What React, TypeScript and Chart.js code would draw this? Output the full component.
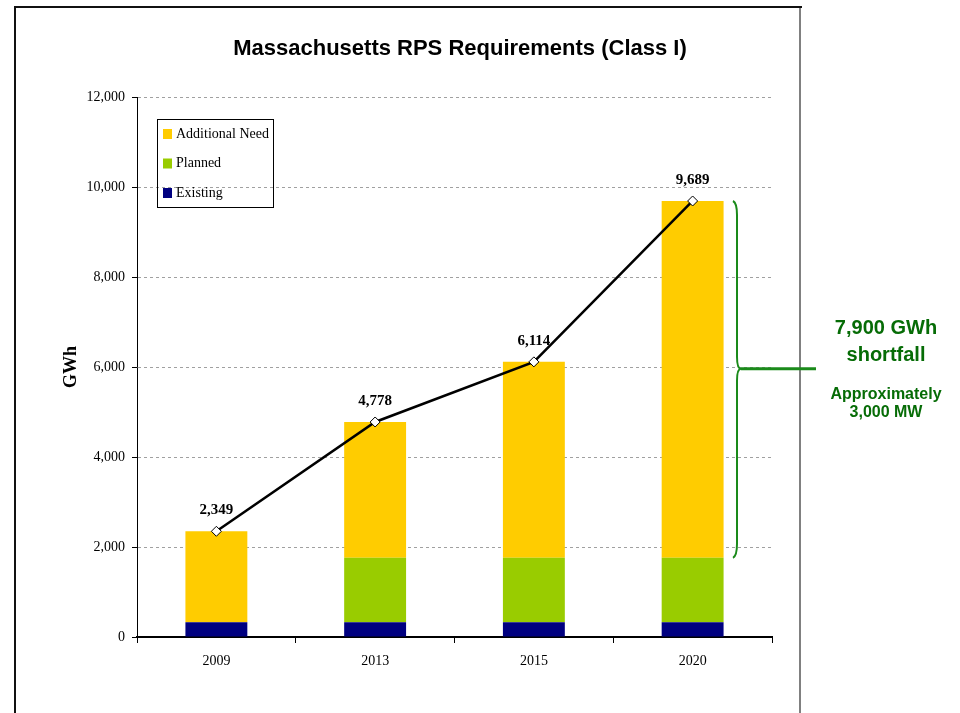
import React, { useEffect, useRef } from 'react';
import { Chart, registerables } from 'chart.js';

Chart.register(...registerables);

const chartTitle = 'Massachusetts RPS Requirements (Class I)';
const years = ['2009', '2013', '2015', '2020'];
const existing = [330, 330, 330, 330];
const planned = [0, 1430, 1430, 1430];
const additionalNeed = [2019, 3018, 4354, 7929];
const requirementTotals = [2349, 4778, 6114, 9689];
const yMin = 0;
const yMax = 12000;
const yStep = 2000;
const yAxisTitle = 'GWh';
const shortfallLines = ['7,900 GWh', 'shortfall'];
const capacityLines = ['Approximately', '3,000 MW'];

const fmt = (v: number) => v.toLocaleString('en-US');

const SERIF = '"Liberation Serif", "Times New Roman", serif';
const SANS = '"Liberation Sans", Arial, sans-serif';
const GREEN_LINE = '#1a8a1a';
const GREEN_TEXT = '#066c06';

const decorPlugin = {
  id: 'decor',
  afterDraw(chart: any) {
    const ctx: CanvasRenderingContext2D = chart.ctx;
    const yScale = chart.scales.y;
    ctx.save();

    // frame
    ctx.fillStyle = '#111';
    ctx.fillRect(14, 6, 788, 2);
    ctx.fillRect(14, 6, 2, 707);
    ctx.fillStyle = '#808080';
    ctx.fillRect(799, 8, 2, 705);

    // title
    ctx.fillStyle = '#000';
    ctx.font = `bold 22px ${SANS}`;
    ctx.textAlign = 'center';
    ctx.textBaseline = 'middle';
    ctx.fillText(chartTitle, 460, 49);

    // legend
    const bars = chart.data.datasets.filter((d: any) => d.type === 'bar').slice().reverse();
    ctx.lineWidth = 1;
    ctx.strokeStyle = '#000';
    ctx.strokeRect(157.5, 119.5, 116, 88);
    ctx.font = `14px ${SERIF}`;
    ctx.textAlign = 'left';
    bars.forEach((d: any, i: number) => {
      const cy = 134 + i * 29.5;
      ctx.fillStyle = d.backgroundColor;
      ctx.fillRect(163, cy - 5, 9, 10);
      ctx.fillStyle = '#000';
      ctx.fillText(d.label, 176, cy);
    });

    // data labels on line points
    const lineIdx = chart.data.datasets.findIndex((d: any) => d.type === 'line');
    const meta = chart.getDatasetMeta(lineIdx);
    ctx.font = `bold 15px ${SERIF}`;
    ctx.textAlign = 'center';
    ctx.fillStyle = '#000';
    meta.data.forEach((pt: any, i: number) => {
      ctx.fillText(fmt(requirementTotals[i]), pt.x, pt.y - 21);
    });

    // brace
    const last = years.length - 1;
    const top = yScale.getPixelForValue(requirementTotals[last]);
    const bottom = yScale.getPixelForValue(existing[last] + planned[last]);
    const mid = top + (bottom - top) * 0.47;
    const bx = 736;
    ctx.strokeStyle = GREEN_LINE;
    ctx.lineWidth = 2;
    ctx.beginPath();
    ctx.moveTo(bx - 3, top);
    ctx.quadraticCurveTo(bx + 1, top + 2, bx + 1, top + 14);
    ctx.lineTo(bx + 1, mid - 12);
    ctx.quadraticCurveTo(bx + 1, mid, bx + 5, mid);
    ctx.moveTo(bx + 5, mid);
    ctx.quadraticCurveTo(bx + 1, mid, bx + 1, mid + 12);
    ctx.lineTo(bx + 1, bottom - 14);
    ctx.quadraticCurveTo(bx + 1, bottom - 2, bx - 3, bottom);
    ctx.stroke();
    ctx.lineWidth = 3;
    ctx.beginPath();
    ctx.moveTo(bx + 5, mid);
    ctx.lineTo(816, mid);
    ctx.stroke();

    // annotation text
    ctx.fillStyle = GREEN_TEXT;
    ctx.textAlign = 'center';
    ctx.font = `bold 20px ${SANS}`;
    ctx.fillText(shortfallLines[0], 886, 328);
    ctx.fillText(shortfallLines[1], 886, 355);
    ctx.font = `bold 16px ${SANS}`;
    ctx.fillText(capacityLines[0], 886, 395);
    ctx.fillText(capacityLines[1], 886, 413);

    ctx.restore();
  },
};

export default function App() {
  const ref = useRef<HTMLCanvasElement | null>(null);

  useEffect(() => {
    if (!ref.current) return;
    const tickFont = { family: SERIF, size: 14 };
    const chart = new Chart(ref.current, {
      type: 'bar',
      data: {
        labels: years,
        datasets: [
          {
            type: 'line',
            label: 'Total Requirement',
            data: requirementTotals,
            stack: 'line',
            order: 0,
            borderColor: '#000',
            borderWidth: 2.5,
            pointStyle: 'rectRot',
            pointRadius: 5,
            pointBackgroundColor: '#fff',
            pointBorderColor: '#000',
            pointBorderWidth: 1,
            tension: 0,
          } as any,
          {
            type: 'bar',
            label: 'Existing',
            data: existing,
            stack: 'bars',
            order: 1,
            backgroundColor: '#000080',
            barPercentage: 0.39,
            categoryPercentage: 1,
          },
          {
            type: 'bar',
            label: 'Planned',
            data: planned,
            stack: 'bars',
            order: 1,
            backgroundColor: '#99CC00',
            barPercentage: 0.39,
            categoryPercentage: 1,
          },
          {
            type: 'bar',
            label: 'Additional Need',
            data: additionalNeed,
            stack: 'bars',
            order: 1,
            backgroundColor: '#FFCC00',
            barPercentage: 0.39,
            categoryPercentage: 1,
          },
        ],
      },
      options: {
        animation: false,
        responsive: false,
        layout: { padding: { left: 0, right: 188, top: 97, bottom: 0 } },
        plugins: {
          legend: { display: false },
          tooltip: { enabled: false },
          title: { display: false },
        },
        scales: {
          x: {
            stacked: true,
            grid: {
              offset: true,
              drawOnChartArea: false,
              drawTicks: true,
              tickLength: 6,
              tickColor: '#000',
              tickWidth: 1,
            },
            border: { color: '#000', width: 2 },
            ticks: { font: tickFont, color: '#000', padding: 10 },
            afterFit: (s: any) => {
              s.height = 76;
            },
          },
          y: {
            stacked: true,
            min: yMin,
            max: yMax,
            ticks: {
              stepSize: yStep,
              font: tickFont,
              color: '#000',
              padding: 7,
              callback: (v: any) => fmt(Number(v)),
            },
            grid: {
              color: (c: any) => (c.tick && c.tick.value === 0 ? 'rgba(0,0,0,0)' : '#a0a0a0'),
              lineWidth: 1,
              tickLength: 5,
              tickColor: '#000',
              tickWidth: 1,
              tickBorderDash: [],
            },
            border: { color: '#000', width: 1, dash: [3, 3] },
            title: {
              display: true,
              text: yAxisTitle,
              font: { family: SERIF, size: 18, weight: 'bold' },
              color: '#000',
              padding: { top: 61, bottom: 0 },
            },
            afterFit: (s: any) => {
              s.width = 137;
            },
          },
        },
      },
      plugins: [decorPlugin],
    });
    return () => chart.destroy();
  }, []);

  return (
    <div style={{ position: 'absolute', left: 0, top: 0, width: 960, height: 713, background: '#fff' }}>
      <canvas ref={ref} width={960} height={713} style={{ width: 960, height: 713, display: 'block' }} />
    </div>
  );
}
